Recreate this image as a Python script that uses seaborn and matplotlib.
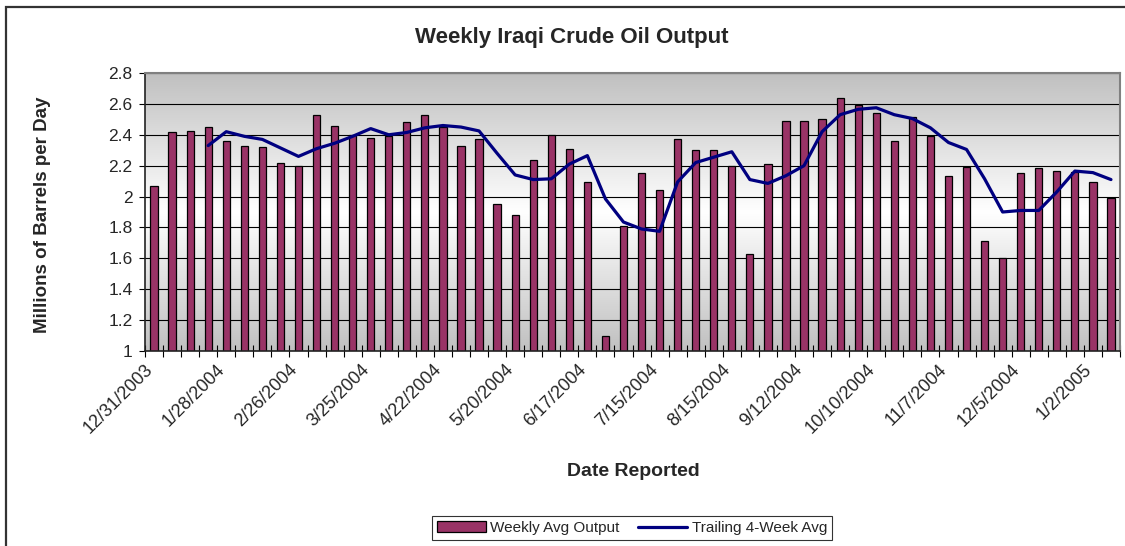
# Weekly Iraqi crude oil output chart

import numpy as np
import pandas as pd
import seaborn as sns
import matplotlib.pyplot as plt
import matplotlib.transforms as mtransforms
from matplotlib.patches import Patch, Rectangle
from matplotlib.lines import Line2D
from matplotlib.colors import LinearSegmentedColormap

# Data (millions of barrels per day)
weekly_output = [2.07, 2.415, 2.425, 2.45, 2.36, 2.33, 2.32, 2.22, 2.20, 2.53,
                 2.46, 2.40, 2.38, 2.39, 2.48, 2.53, 2.45, 2.33, 2.37, 1.95,
                 1.88, 2.235, 2.40, 2.31, 2.095, 1.10, 1.81, 2.15, 2.04, 2.37,
                 2.30, 2.30, 2.20, 1.63, 2.21, 2.49, 2.49, 2.50, 2.64, 2.595,
                 2.54, 2.36, 2.515, 2.39, 2.13, 2.19, 1.71, 1.60, 2.15, 2.185,
                 2.165, 2.16, 2.095, 1.99]
trailing_avg = [np.nan, np.nan, np.nan, 2.33, 2.42, 2.39, 2.37, 2.315, 2.26, 2.31,
                2.345, 2.39, 2.44, 2.40, 2.415, 2.445, 2.46, 2.45, 2.425, 2.28,
                2.14, 2.11, 2.115, 2.21, 2.265, 1.985, 1.835, 1.79, 1.775, 2.095,
                2.22, 2.255, 2.29, 2.11, 2.085, 2.135, 2.20, 2.42, 2.53, 2.565,
                2.575, 2.53, 2.505, 2.445, 2.35, 2.305, 2.115, 1.90, 1.91, 1.91,
                2.03, 2.165, 2.155, 2.11]
tick_labels = ['12/31/2003', '1/28/2004', '2/26/2004', '3/25/2004', '4/22/2004',
               '5/20/2004', '6/17/2004', '7/15/2004', '8/15/2004', '9/12/2004',
               '10/10/2004', '11/7/2004', '12/5/2004', '1/2/2005']
y_ticks = [1, 1.2, 1.4, 1.6, 1.8, 2, 2.2, 2.4, 2.6, 2.8]

df = pd.DataFrame({'week': range(len(weekly_output)),
                   'output': weekly_output,
                   'avg4': trailing_avg})

sns.set_style('white')
plt.rcParams['font.family'] = ['Liberation Sans', 'DejaVu Sans']

W, H = 1125, 546
fig = plt.figure(figsize=(W / 100, H / 100), dpi=100)
ax = fig.add_axes([145 / W, 1 - 351 / H, (1120 - 145) / W, (351 - 73) / H])

# Gray-white-gray gradient plot area
grad = np.abs(np.linspace(1, 0, 256) - 0.5)[:, None] * 2
cmap = LinearSegmentedColormap.from_list('bg', ['#ffffff', '#c0c0c0'])
ax.imshow(grad, cmap=cmap, extent=[0, 1, 0, 1], transform=ax.transAxes,
          aspect='auto', zorder=0, vmin=0, vmax=1)

sns.barplot(data=df, x='week', y='output', color='#993366', edgecolor='black',
            linewidth=0.9, width=0.4, saturation=1, ax=ax, zorder=2)
sns.lineplot(data=df, x='week', y='avg4', color='#000080', linewidth=2.3,
             ax=ax, zorder=3)

n = len(weekly_output)
ax.set_xlim(-0.5, n - 0.5)
ax.set_ylim(1, 2.8)
ax.set_yticks(y_ticks)
ax.set_yticklabels([f'{v:g}' for v in y_ticks], fontsize=12.5)
ax.yaxis.grid(True, color='black', linewidth=0.8)
ax.set_axisbelow(True)

# Date labels every 4th week, drawn as rotated texts under the axis
ax.set_xticks(range(0, n, 4))
ax.set_xticklabels([])
ax.tick_params(axis='x', length=0)
base = mtransforms.blended_transform_factory(ax.transData, ax.transAxes)
shift = mtransforms.ScaledTranslation(-4 / 100, -16 / 100, fig.dpi_scale_trans)
for pos, lbl in zip(range(0, n, 4), tick_labels):
    ax.text(pos, 0, lbl, transform=base + shift, rotation=45, ha='right',
            va='center', rotation_mode='anchor', fontsize=13, clip_on=False)

ax.set_xticks(np.arange(-0.5, n, 1), minor=True)
ax.tick_params(axis='x', which='minor', direction='inout', length=8,
               width=0.8, color='black', bottom=True)
ax.tick_params(axis='y', direction='out', length=4, width=0.8, color='black',
               left=True, pad=5)
ax.set_xlabel('')
ax.set_ylabel('')

for side in ['top', 'right']:
    ax.spines[side].set_color('#808080')
    ax.spines[side].set_linewidth(1.5)
for side in ['left', 'bottom']:
    ax.spines[side].set_color('#222222')
    ax.spines[side].set_linewidth(1.2)

# Texts
fig.text(572 / W, 1 - 38 / H, 'Weekly Iraqi Crude Oil Output', ha='center',
         va='center', fontsize=16, fontweight='bold')
fig.text(43 / W, 1 - 215 / H, 'Millions of Barrels per Day', ha='center',
         va='center', rotation=90, fontsize=13.5, fontweight='bold')
fig.text(633 / W, 1 - 472 / H, 'Date Reported', ha='center', va='center',
         fontsize=14, fontweight='bold')

# Legend
handles = [Patch(facecolor='#993366', edgecolor='black', linewidth=0.9),
           Line2D([0], [0], color='#000080', linewidth=2.3)]
leg = fig.legend(handles, ['Weekly Avg Output', 'Trailing 4-Week Avg'],
                 loc='center', bbox_to_anchor=(632 / W, 1 - 528 / H), ncol=2,
                 fontsize=11, frameon=True, fancybox=False, handlelength=3.2,
                 handletextpad=0.3, columnspacing=1.2, borderpad=0.35)
leg.get_frame().set_edgecolor('black')
leg.get_frame().set_linewidth(0.8)

# Chart border (cropped on the right and bottom)
fig.patches.append(Rectangle((6 / W, -0.1), 1.2, 1 - 7 / H + 0.1, fill=False,
                             edgecolor='#333333', linewidth=1.6,
                             transform=fig.transFigure, figure=fig))

fig.savefig('out.png', dpi=100)
